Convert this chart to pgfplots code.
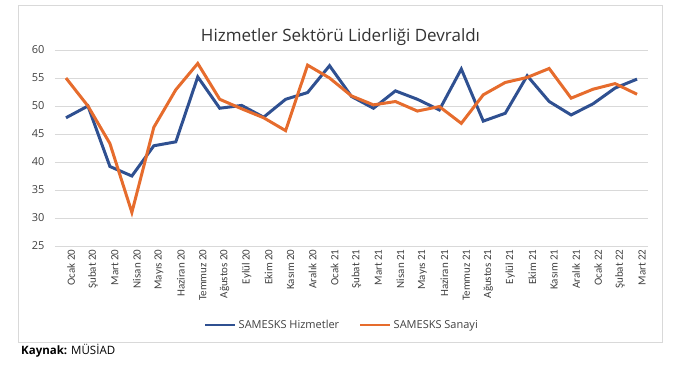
\documentclass[border=0pt]{standalone}
\usepackage{fontspec}
\setmainfont{Open Sans}
\newfontfamily\carlito{Carlito}
\usepackage{pgfplots}
\pgfplotsset{compat=1.18}
\definecolor{sblue}{RGB}{47,80,145}
\definecolor{sorange}{RGB}{230,108,45}
\definecolor{gridc}{RGB}{217,217,217}
\definecolor{txt}{RGB}{64,64,64}
\begin{document}
\begin{tikzpicture}[x=1pt,y=1pt]
\useasboundingbox (-55,-119) rectangle (643,246);
\draw[gridc, line width=1pt] (-37,-96.5) rectangle (607,241);
\begin{axis}[
  at={(0,0)}, anchor=south west,
  scale only axis, width=593pt, height=196pt,
  xmin=-0.5, xmax=26.5, ymin=25, ymax=60,
  ytick={25,30,...,60},
  xtick={0,...,26},
  xticklabels={Ocak 20,Şubat 20,Mart 20,Nisan 20,Mayıs 20,Haziran 20,Temmuz 20,Ağustos 20,Eylül 20,Ekim 20,Kasım 20,Aralık 20,Ocak 21,Şubat 21,Mart 21,Nisan 21,Mayıs 21,Haziran 21,Temmuz 21,Ağustos 21,Eylül 21,Ekim 21,Kasım 21,Aralık 21,Ocak 22,Şubat 22,Mart 22},
  xticklabel style={rotate=90, anchor=east, font=\carlito\fontsize{11}{13}\selectfont, text=txt, yshift=-5pt},
  yticklabel style={font=\fontsize{11}{13}\selectfont, text=txt, xshift=-7pt},
  /pgf/number format/assume math mode=true,
  ymajorgrids, grid style={gridc, line width=1pt},
  axis line style={draw=none}, tick style={draw=none},
  clip=false,
  legend style={at={(0.484,-0.403)}, anchor=center, draw=none, fill=none, legend columns=2,
    font=\fontsize{11}{13}\selectfont, text=txt, /tikz/every even column/.append style={column sep=18pt}},
  legend image code/.code={\draw[#1, line width=2.5pt] (0pt,0pt) -- (30pt,0pt);},
]
\addplot[sblue, line width=3pt, line join=miter] coordinates {
(0,47.9)(1,50.0)(2,39.2)(3,37.5)(4,42.9)(5,43.6)(6,55.2)(7,49.6)(8,50.1)(9,48.0)(10,51.2)(11,52.4)(12,57.2)(13,51.7)(14,49.6)(15,52.7)(16,51.2)(17,49.3)(18,56.6)(19,47.3)(20,48.7)(21,55.4)(22,50.8)(23,48.4)(24,50.4)(25,53.2)(26,54.8)};
\addlegendentry{SAMESKS Hizmetler}
\addplot[sorange, line width=3pt, line join=miter] coordinates {
(0,55.0)(1,50.0)(2,43.3)(3,31.0)(4,46.2)(5,52.9)(6,57.6)(7,51.2)(8,49.5)(9,47.9)(10,45.6)(11,57.3)(12,55.0)(13,51.8)(14,50.2)(15,50.8)(16,49.1)(17,49.9)(18,46.9)(19,52.0)(20,54.2)(21,55.1)(22,56.7)(23,51.4)(24,53.0)(25,54.0)(26,52.1)};
\addlegendentry{SAMESKS Sanayi}
\end{axis}
\node[text=black!80, font=\fontsize{17}{20}\selectfont, anchor=base] at (285.5,205) {Hizmetler Sektörü Liderliği Devraldı};
\node[anchor=west, font=\fontsize{11.5}{13}\selectfont, inner sep=0pt] at (-34,-105) {\textbf{Kaynak:} MÜSİAD};
\end{tikzpicture}
\end{document}
